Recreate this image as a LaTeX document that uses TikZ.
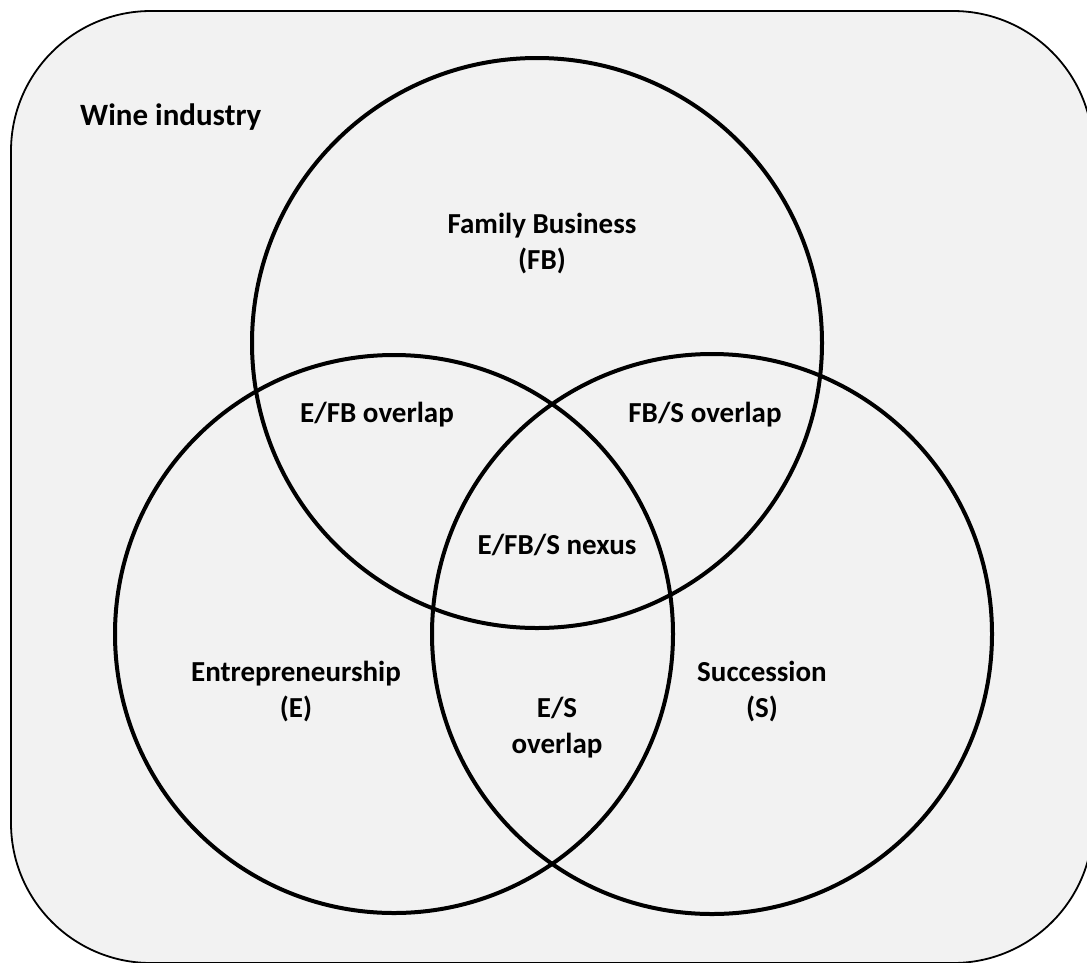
\documentclass[tikz,border=0pt]{standalone}
\usepackage{fontspec}
\setmainfont{Carlito}
\usetikzlibrary{positioning,backgrounds}
\definecolor{industry}{RGB}{242,242,242}

\begin{document}
\begin{tikzpicture}[
    x=1pt, y=-1pt,
    set/.style={circle, draw, line width=4pt, inner sep=0pt},
    label/.style={font=\fontsize{29}{36}\selectfont\bfseries, align=center, inner sep=0pt},
    frame/.style={draw, line width=1.8pt, fill=industry, rounded corners=140pt}
]

\useasboundingbox (0,0) rectangle (1087,962);
\clip (0,0) rectangle (1087,962);

% Industry frame
\draw[frame] (11,11) rectangle (1093,963);
\node[label, anchor=west, font=\fontsize{31}{38}\selectfont\bfseries] (wine) at (80,117) {Wine industry};

% Circles
\node[set, minimum size=570pt] (fb) at (537,343) {};
\node[set, minimum size=558pt] (ent) at (394,634) {};
\node[set, minimum size=560pt] (succ) at (712,634) {};

% Labels
\node[label] (fb_lbl) at (542,244) {Family Business\\(FB)};
\node[label] (ent_lbl) at (296,692) {Entrepreneurship\\(E)};
\node[label] (succ_lbl) at (762,692) {Succession\\(S)};
\node[label] (efb) at (377,415) {E/FB overlap};
\node[label] (fbs) at (705,415) {FB/S overlap};
\node[label] (nexus) at (557,545) {E/FB/S nexus};
\node[label] (es) at (557,728) {E/S\\overlap};

\end{tikzpicture}
\end{document}
